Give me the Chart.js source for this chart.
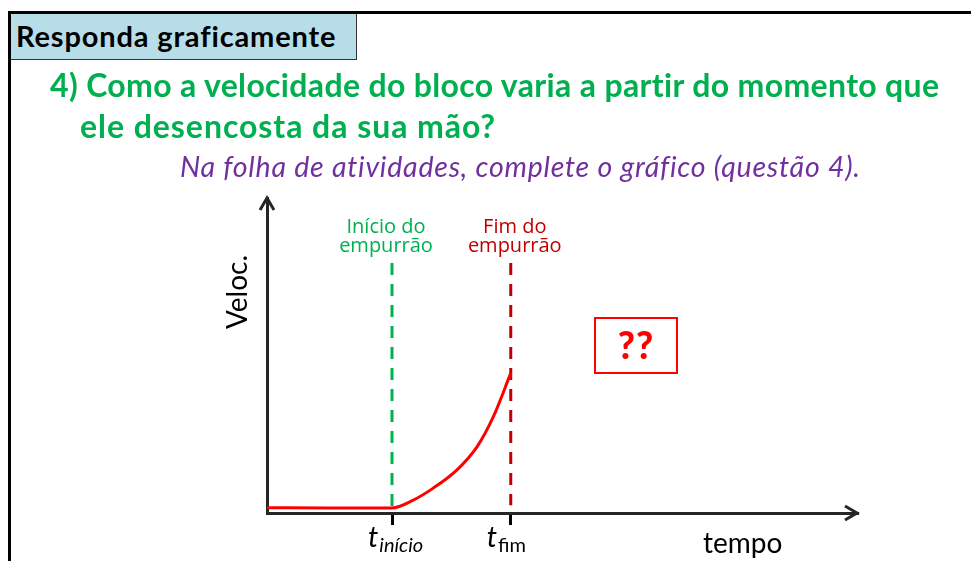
<!DOCTYPE html>
<html>
<head>
<meta charset="utf-8">
<script src="https://cdn.jsdelivr.net/npm/chart.js@4.4.0/dist/chart.umd.min.js"></script>
<style>
html, body { margin: 0; padding: 0; background: #fff; }
body { width: 971px; height: 561px; position: relative; overflow: hidden; font-family: Lato, "Open Sans", sans-serif; }
#grafico { position: absolute; left: 0; top: 0; }
#moldura { position: absolute; left: 8px; top: 11px; width: 980px; height: 600px; border-top: 3px solid #000; border-left: 3px solid #000; }
#cabecalho { position: absolute; left: 11px; top: 14px; width: 346px; height: 46px; box-sizing: border-box; background: #b7dde8;
  border-right: 1.5px solid #333; border-bottom: 1.5px solid #333; }
.texto { position: absolute; white-space: nowrap; line-height: 1; }
#tcab { left: 16px; top: 21px; font-weight: bold; font-size: 29px; color: #000; }
.titulo { color: #00b050; font-weight: bold; font-size: 32px; }
#subtitulo { left: 180px; top: 152px; color: #7030a0; font-style: italic; font-size: 28.5px; }
#duvida { position: absolute; left: 594px; top: 317px; width: 84px; height: 57px; box-sizing: border-box; border: 2px solid #ff0000;
  color: #ff0000; font-weight: 900; font-size: 37px; line-height: 52px; text-align: center; letter-spacing: 1px; }
</style>
</head>
<body>
<canvas id="grafico" width="971" height="561"></canvas>
<div id="moldura"></div>
<div id="cabecalho"></div>
<span class="texto" id="tcab">Responda graficamente</span>
<span class="texto titulo" id="titulo1" style="left:50px; top:69px;">4) Como a velocidade do bloco varia a partir do momento que</span>
<span class="texto titulo" id="titulo2" style="left:80px; top:110px;">ele desencosta da sua mão?</span>
<span class="texto" id="subtitulo">Na folha de atividades, complete o gráfico (questão 4).</span>
<div id="duvida">??</div>
<script>
// Valores (tempo em unidades arbitrárias, velocidade 0 a 10)
var tempo = [0, 0.5, 1.0, 1.17, 1.33, 1.52, 1.68, 1.81, 1.95];
var veloc = [0.17, 0.16, 0.16, 0.41, 0.79, 1.37, 2.10, 3.05, 4.44];

// Instantes marcados no eixo
var marcas = [1.0, 1.95];
var rotulosMarcas = ['início', 'fim'];
var italicoMarcas = [true, false];

// Textos acima das linhas tracejadas
var textosInicio = ['Início do', 'empurrão'];
var textosFim = ['Fim do', 'empurrão'];
var topoTracejado = 7.94;

var tempoMax = 4.72;
var velocMax = 10;

var pontos = tempo.map((t, i) => ({ x: t, y: veloc[i] }));

// ajusta o espaçamento das letras para a largura do original
function ajustar(id, largura) {
	var el = document.getElementById(id);
	var w = el.getBoundingClientRect().width;
	var n = el.textContent.length;
	el.style.letterSpacing = ((largura - w) / n) + 'px';
}
ajustar('tcab', 320);
ajustar('titulo1', 890);
ajustar('titulo2', 416);
ajustar('subtitulo', 680);

// Setas, rótulos dos eixos e textos das marcas
var desenhos = {
	id: 'desenhos',
	afterDraw(chart) {
		var ctx = chart.ctx;
		var a = chart.chartArea;
		var sx = chart.scales.x;
		ctx.save();
		ctx.strokeStyle = '#262626';
		ctx.lineWidth = 3;
		ctx.lineJoin = 'miter';
		// seta do eixo y
		ctx.beginPath();
		ctx.moveTo(a.left - 7, a.top + 12);
		ctx.lineTo(a.left, a.top);
		ctx.lineTo(a.left + 7, a.top + 12);
		ctx.stroke();
		// seta do eixo x
		ctx.beginPath();
		ctx.moveTo(a.right - 12, a.bottom - 7);
		ctx.lineTo(a.right, a.bottom);
		ctx.lineTo(a.right - 12, a.bottom + 7);
		ctx.stroke();

		// rótulos dos eixos
		ctx.fillStyle = '#000';
		ctx.font = '28px Lato';
		ctx.textAlign = 'left';
		ctx.textBaseline = 'alphabetic';
		ctx.fillText('tempo', 703, 553);
		ctx.save();
		ctx.translate(a.left - 20, 292);
		ctx.rotate(-Math.PI / 2);
		ctx.textAlign = 'center';
		ctx.fillText('Veloc.', 0, 0);
		ctx.restore();

		// t_início e t_fim
		marcas.forEach((v, i) => {
			var px = sx.getPixelForValue(v);
			ctx.font = 'italic 29px Lato';
			ctx.textAlign = 'left';
			var lt = ctx.measureText('t').width;
			ctx.fillText('t', px - 24, 547);
			ctx.font = (italicoMarcas[i] ? 'italic ' : '') + '20px Lato';
			ctx.fillText(rotulosMarcas[i], px - 24 + lt + 1, 552);
		});

		// textos das linhas tracejadas
		ctx.font = '20px "Open Sans"';
		ctx.textAlign = 'center';
		ctx.fillStyle = '#00b050';
		textosInicio.forEach((t, j) => ctx.fillText(t, sx.getPixelForValue(marcas[0]) - 6, 233 + j * 19));
		ctx.fillStyle = '#c00000';
		textosFim.forEach((t, j) => ctx.fillText(t, sx.getPixelForValue(marcas[1]) + 4, 233 + j * 19));
		ctx.restore();
	}
};

var grafico = new Chart(document.getElementById('grafico'), {
	type: 'line',
	data: {
		datasets: [{
			data: pontos,
			borderColor: '#ff0000',
			borderWidth: 3,
			pointRadius: 0,
			fill: false,
			cubicInterpolationMode: 'monotone'
		}, {
			data: [{ x: marcas[0], y: topoTracejado }, { x: marcas[0], y: 0 }],
			borderColor: '#00b050',
			borderWidth: 3,
			borderDash: [12, 9],
			pointRadius: 0
		}, {
			data: [{ x: marcas[1], y: topoTracejado }, { x: marcas[1], y: 0.25 }],
			borderColor: '#c00000',
			borderWidth: 3,
			borderDash: [12, 9],
			pointRadius: 0
		}]
	},
	options: {
		responsive: false,
		animation: false,
		layout: { padding: { left: 267, right: 114, top: 198, bottom: 0 } },
		plugins: { legend: { display: false }, tooltip: { enabled: false } },
		scales: {
			x: {
				type: 'linear', min: 0, max: tempoMax,
				border: { display: true, color: '#262626', width: 3 },
				grid: { display: true, drawOnChartArea: false, drawTicks: true, tickLength: 12, color: '#000', lineWidth: 3 },
				ticks: { display: false },
				afterBuildTicks: s => { s.ticks = marcas.map(v => ({ value: v })); },
				afterFit: s => { s.height = 48; }
			},
			y: {
				type: 'linear', min: 0, max: velocMax,
				border: { display: true, color: '#262626', width: 3 },
				grid: { display: false },
				ticks: { display: false },
				afterFit: s => { s.width = 0; }
			}
		}
	},
	plugins: [desenhos]
});
</script>
</body>
</html>
